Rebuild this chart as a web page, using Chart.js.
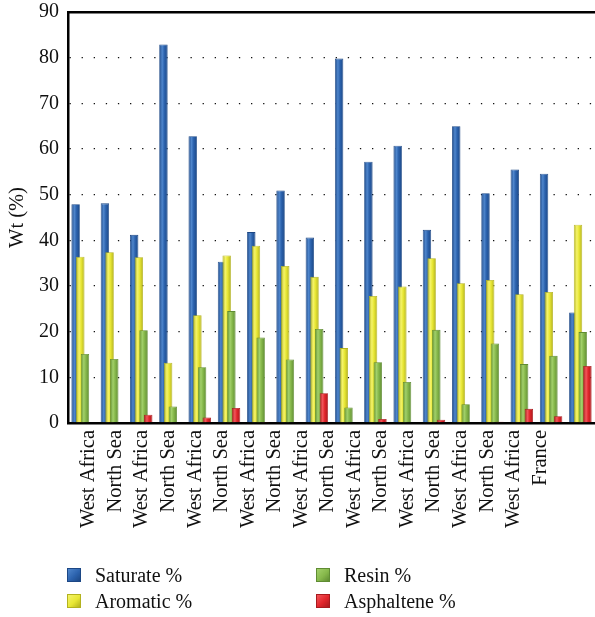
<!DOCTYPE html>
<html>
<head>
<meta charset="utf-8">
<script src="https://cdn.jsdelivr.net/npm/chart.js@4/dist/chart.umd.min.js"></script>
<style>
  html, body { margin: 0; padding: 0; background: #fff; }
  #wrap { position: relative; width: 595px; height: 617px; }
  #legend {
    position: absolute; left: 67px; top: 562px;
    display: grid; grid-auto-flow: column;
    grid-template-rows: 26px 26px; grid-template-columns: 249px auto;
    font-family: "Liberation Serif", "DejaVu Serif", serif; font-size: 20px; color: #111;
  }
  .item { display: flex; align-items: center; white-space: nowrap; }
  .swatch { width: 14px; height: 14px; margin-right: 14px; box-sizing: border-box; }
</style>
</head>
<body>
<div id="wrap">
  <canvas id="c" width="595" height="617"></canvas>
  <div id="legend"></div>
</div>
<script>
// Crude oil composition by origin (wt %)
const origins = [
  "West Africa", "North Sea", "West Africa", "North Sea", "West Africa", "North Sea",
  "West Africa", "North Sea", "West Africa", "North Sea", "West Africa", "North Sea",
  "West Africa", "North Sea", "West Africa", "North Sea", "West Africa", "France"
];
const saturate   = [47.9, 48.1, 41.2, 82.9, 62.8, 35.3, 41.8, 50.9, 40.6, 79.8, 57.2, 60.7, 42.3, 65.0, 50.3, 55.5, 54.6, 24.2];
const aromatic   = [36.4, 37.4, 36.3, 13.2, 23.6, 36.7, 38.8, 34.4, 32.0, 16.4, 27.8, 29.9, 36.1, 30.6, 31.3, 28.2, 28.7, 43.4];
const resin      = [15.1, 14.0, 20.3,  3.6, 12.2, 24.5, 18.7, 13.9, 20.6,  3.4, 13.3,  9.0, 20.4,  4.1, 17.4, 12.9, 14.7, 19.9];
const asphaltene = [ 0.0,  0.0,  1.8,  0.0,  1.2,  3.3,  0.1,  0.0,  6.5,  0.0,  0.9,  0.0,  0.7,  0.0,  0.3,  3.1,  1.5, 12.5];
const yTicks = [0, 10, 20, 30, 40, 50, 60, 70, 80, 90];

const seriesNames = ["Saturate %", "Aromatic %", "Resin %", "Asphaltene %"];
const seriesValues = [saturate, aromatic, resin, asphaltene];
const fills   = ["#2c63ae", "#e8e735", "#86b84b", "#e1252b"];
const lights  = ["#4f86cc", "#f4f36a", "#a2d06a", "#f2565a"];
const strokes = ["#1c4785", "#b3b21f", "#5f8c33", "#a81a1e"];

const FONT = '"Liberation Serif", "DejaVu Serif", serif';

// Later series are painted over earlier ones so each group overlaps left to right.
const layerOrder = {
  id: 'layerOrder',
  beforeDatasetsDraw(chart) {
    const metas = chart.getSortedVisibleDatasetMetas();
    for (const m of metas) m.controller.draw();
    return false;
  }
};

// Cylinder-like shading across each bar, once its position is known.
function barFill(i) {
  return (ctx) => {
    const el = ctx.element;
    if (!el || !Number.isFinite(el.x) || !Number.isFinite(el.width)) return fills[i];
    const x0 = el.x - el.width / 2, x1 = el.x + el.width / 2;
    const g = ctx.chart.ctx.createLinearGradient(x0, 0, x1, 0);
    g.addColorStop(0, strokes[i]);
    g.addColorStop(0.35, lights[i]);
    g.addColorStop(0.6, fills[i]);
    g.addColorStop(1, strokes[i]);
    return g;
  };
}

const datasets = seriesNames.map((name, i) => ({
  label: name,
  data: seriesValues[i],
  backgroundColor: barFill(i),
  borderColor: strokes[i],
  borderWidth: 0.8,
  categoryPercentage: 0.64,
  barPercentage: 1.8
}));

const chart = new Chart(document.getElementById('c'), {
  type: 'bar',
  data: { labels: origins, datasets },
  plugins: [layerOrder],
  options: {
    responsive: false,
    animation: false,
    layout: { padding: { top: 12, right: 0, left: 0, bottom: 0 } },
    plugins: { legend: { display: false }, tooltip: { enabled: false } },
    scales: {
      x: { type: 'category', display: false },
      xl: {
        type: 'linear', position: 'bottom',
        min: -0.238, max: 18.513,
        grid: { display: false, drawTicks: false },
        border: { display: true, color: '#000', width: 2.5 },
        afterBuildTicks(s) { s.ticks = origins.map((_, i) => ({ value: i })); },
        ticks: {
          autoSkip: false, minRotation: 90, maxRotation: 90, padding: 7,
          color: '#111', font: { family: FONT, size: 20.5 },
          callback: (v) => origins[v]
        },
        afterFit(s) { s.height = 194; s.paddingLeft = 0; s.paddingRight = 0; }
      },
      xt: {
        type: 'linear', position: 'top', min: 0, max: 1,
        grid: { display: false, drawTicks: false },
        ticks: { display: false },
        border: { display: true, color: '#000', width: 2.5 },
        afterFit(s) { s.height = 0; }
      },
      y: {
        min: 0, max: 90,
        afterBuildTicks(s) { s.ticks = yTicks.map(v => ({ value: v })); },
        grid: { drawTicks: false, color: '#111', lineWidth: 1.3, display: true },
        border: { display: true, color: '#000', width: 2.5, dash: [1.3, 10.8] },
        ticks: { padding: 9, color: '#111', font: { family: FONT, size: 20 } },
        title: {
          display: true, text: 'Wt (%)', color: '#111',
          font: { family: FONT, size: 20.5 }, padding: { top: 5, bottom: 0 }
        },
        afterFit(s) { s.width = 68; s.paddingTop = 0; s.paddingBottom = 0; }
      }
    }
  }
});
chart.update();

// Legend: two columns, series listed down each column
const legend = document.getElementById('legend');
seriesNames.forEach((name, i) => {
  const item = document.createElement('div');
  item.className = 'item';
  const sw = document.createElement('span');
  sw.className = 'swatch';
  sw.style.background = `linear-gradient(135deg, ${lights[i]} 0%, ${fills[i]} 55%, ${strokes[i]} 100%)`;
  sw.style.border = `1px solid ${strokes[i]}`;
  item.appendChild(sw);
  item.appendChild(document.createTextNode(name));
  legend.appendChild(item);
});
</script>
</body>
</html>
